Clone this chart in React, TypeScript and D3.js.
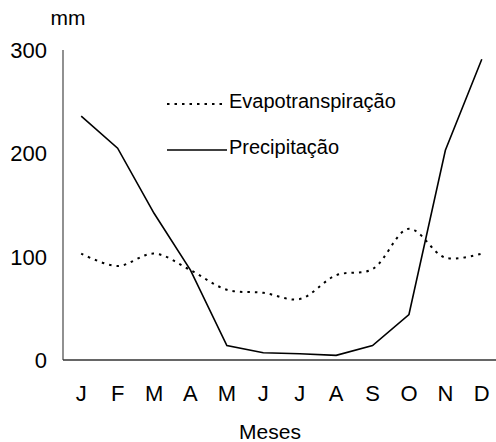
import React from "react";
import * as d3 from "d3";

const months = ["J", "F", "M", "A", "M", "J", "J", "A", "S", "O", "N", "D"];
const precipitation = [236, 205, 142, 87, 14, 7, 6, 4.5, 14, 44, 203, 291];
const evapotranspiration = [103, 91, 103, 87, 68, 65, 59, 82, 88, 127, 99, 103];
const yTicks = [0, 100, 200, 300];

const W = 496;
const H = 442;
const left = 63;
const right = 500;
const top = 50;
const bottom = 360;
const font = "'Liberation Sans', Arial, sans-serif";

export default function App() {
  const idx = months.map((_, i) => i);
  const x = d3.scaleBand<number>().domain(idx).range([left, right]);
  const cx = (i: number) => (x(i) as number) + x.bandwidth() / 2;
  const y = d3.scaleLinear().domain([0, 300]).range([bottom, top]);

  const precLine = d3
    .line<number>()
    .x((_, i) => cx(i))
    .y((d) => y(d))
    .curve(d3.curveLinear);
  const evapLine = d3
    .line<number>()
    .x((_, i) => cx(i))
    .y((d) => y(d))
    .curve(d3.curveCatmullRom.alpha(0.5));

  return (
    <svg
      width={W}
      height={H}
      style={{ position: "absolute", left: 0, top: 0, background: "#fff" }}
      fontFamily={font}
    >
      <rect width={W} height={H} fill="#fff" />
      {/* axes */}
      <line x1={left} x2={left} y1={top} y2={bottom} stroke="#555" strokeWidth={1.3} />
      <line x1={left} x2={W} y1={bottom} y2={bottom} stroke="#333" strokeWidth={1.3} />
      {yTicks.map((t) => (
        <text key={t} x={47} y={y(t)} dy="0.36em" textAnchor="end" fontSize={22} fill="#000">
          {t}
        </text>
      ))}
      {months.map((m, i) => (
        <text key={i} x={cx(i)} y={401} textAnchor="middle" fontSize={22} fill="#000">
          {m}
        </text>
      ))}
      <text x={68} y={25} textAnchor="middle" fontSize={21} fill="#000">mm</text>
      <text x={270} y={439} textAnchor="middle" fontSize={21} fill="#000">Meses</text>

      {/* series */}
      <path
        d={evapLine(evapotranspiration) || ""}
        fill="none"
        stroke="#000"
        strokeWidth={2}
        strokeDasharray="2.5,5"
      />
      <path d={precLine(precipitation) || ""} fill="none" stroke="#000" strokeWidth={1.6} />

      {/* legend */}
      <line x1={167} x2={226} y1={104} y2={104} stroke="#000" strokeWidth={2} strokeDasharray="2.5,5" />
      <text x={229} y={108} fontSize={20} fill="#000">Evapotranspiração</text>
      <line x1={167} x2={227} y1={150} y2={150} stroke="#000" strokeWidth={1.4} />
      <text x={229} y={154} fontSize={20} fill="#000">Precipitação</text>
    </svg>
  );
}
